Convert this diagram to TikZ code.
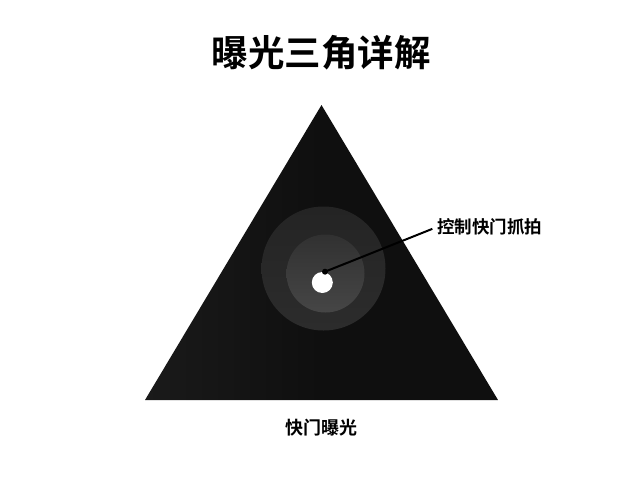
\documentclass[tikz,border=0pt]{standalone}
\usepackage{fontspec}
\newfontfamily\cjkb{Noto Sans CJK SC Bold}
\usetikzlibrary{shadings}
\definecolor{tri}{HTML}{0F0F0F}
\definecolor{trilight}{HTML}{1A1A1A}
\definecolor{ringA}{HTML}{242424}
\definecolor{ringAl}{HTML}{2C2C2C}
\definecolor{ringB}{HTML}{313131}
\definecolor{ringBl}{HTML}{464646}
\tikzset{
  lbl/.style={font=\cjkb\fontsize{17.5}{20}\selectfont, text=black, inner sep=0pt},
  lblb/.style={font=\cjkb\fontsize{18}{20}\selectfont, text=black, inner sep=0pt},
  ttl/.style={font=\cjkb\fontsize{36.5}{40}\selectfont, text=black, inner sep=0pt},
}
\begin{document}
\begin{tikzpicture}[x=1pt,y=-1pt]
\useasboundingbox (0,0) rectangle (640,480);
\fill[white] (0,0) rectangle (640,480);
% triangle
\coordinate (A) at (321.5,105);
\coordinate (B) at (145,400);
\coordinate (C) at (498,400);
\shade[left color=trilight, right color=tri, middle color=tri] (A) -- (B) -- (C) -- cycle;
% rings
\shade[top color=ringA, bottom color=ringAl] (323.5,268.5) circle (62);
\shade[top color=ringB, bottom color=ringBl] (325.5,273.5) circle (39);
\node[circle, fill=white, minimum size=21, inner sep=0pt] (dot) at (322.3,282.5) {};
\fill[black] (325,271.7) circle (3) coordinate (dotedge);
% labels
\node[ttl] (title) at (321,53) {曝光三角详解};
\node[lbl, anchor=west] (ctl) at (437,227) {控制快门抓拍};
\node[lblb] (shut) at (321,428) {快门曝光};
\draw[black, line width=2, shorten >=5] (dotedge) -- (ctl.west);
\end{tikzpicture}
\end{document}
